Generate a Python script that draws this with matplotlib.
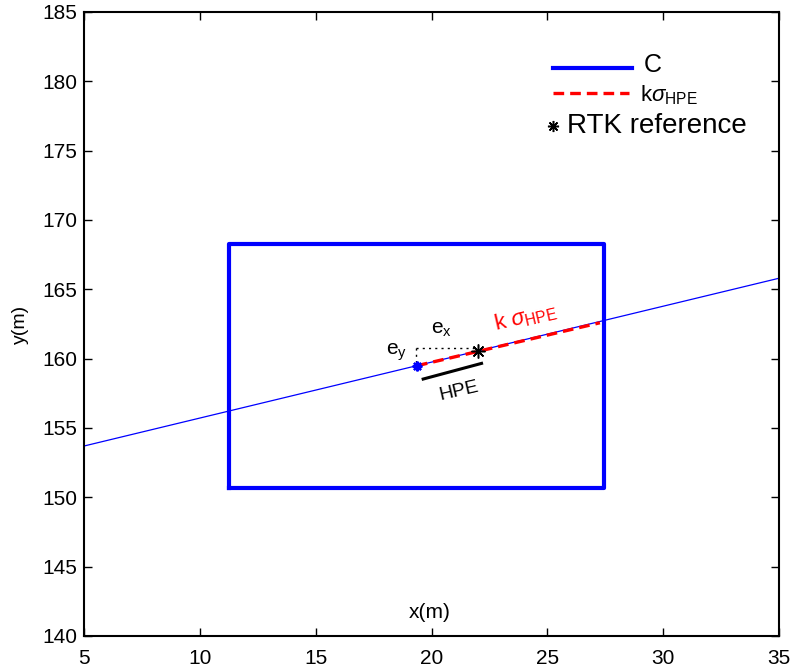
import matplotlib
matplotlib.use("Agg")
import matplotlib.pyplot as plt
from matplotlib.lines import Line2D

plt.rcParams['font.family'] = ['Liberation Sans', 'DejaVu Sans']
plt.rcParams['mathtext.fontset'] = 'custom'
plt.rcParams['mathtext.rm'] = 'Liberation Sans'
plt.rcParams['mathtext.it'] = 'Liberation Sans:italic'
plt.rcParams['mathtext.bf'] = 'Liberation Sans:bold'

# Data
rect_x = [11.26, 27.44, 27.44, 11.26, 11.26]
rect_y = [150.67, 150.67, 168.26, 168.26, 150.67]
line_x = [5, 35]
line_y = [153.7, 165.8]
ksig_x = [19.37, 27.27]
ksig_y = [159.49, 162.59]
est_pt = (19.37, 159.49)
rtk_pt = (22.0, 160.55)
ex_x = [19.33, 22.0]
ex_y = [160.79, 160.79]
ey_x = [19.33, 19.33]
ey_y = [160.79, 159.75]
hpe_x = [19.64, 22.16]
hpe_y = [158.53, 159.66]
xticks = [5, 10, 15, 20, 25, 30, 35]
yticks = [140, 145, 150, 155, 160, 165, 170, 175, 180, 185]

BLUE = '#0000ff'
STAR = (8, 2, 0)

fig = plt.figure(figsize=(7.93, 6.71), dpi=100)
ax = fig.add_axes([84/793, 1-636/671, 695/793, 624/671])

ax.plot(line_x, line_y, color=BLUE, lw=0.9, zorder=2)
ax.plot(rect_x, rect_y, color=BLUE, lw=3, zorder=3)
ax.plot(ksig_x, ksig_y, color='red', lw=2.4, ls=(0, (3.2, 1.8)), zorder=4)
ax.plot(ex_x, ex_y, color='black', lw=1, ls=(0, (1.5, 3)), zorder=3)
ax.plot(ey_x, ey_y, color='black', lw=1, ls=(0, (1.5, 3)), zorder=3)
ax.plot(hpe_x, hpe_y, color='black', lw=2.2, zorder=3)
ax.plot([est_pt[0]], [est_pt[1]], ls='none', marker=STAR, ms=7,
        mew=1.6, color=BLUE, zorder=5)
ax.plot([rtk_pt[0]], [rtk_pt[1]], ls='none', marker=STAR, ms=10,
        mew=1.1, color='black', zorder=5)

ax.text(20.45, 162.1, r'e$_{\rm x}$', fontsize=15, ha='center', va='center')
ax.text(18.5, 160.45, r'e$_{\rm y}$', fontsize=15, ha='center', va='center')
ax.text(21.18, 157.66, 'HPE', fontsize=14, ha='center', va='center', rotation=13)
ax.text(24.08, 163.0, r'k $\sigma_{\rm HPE}$', fontsize=16, color='red',
        ha='center', va='center', rotation=13)

ax.set_xlim(5, 35)
ax.set_ylim(140, 185)
ax.set_xticks(xticks)
ax.set_yticks(yticks)
ax.tick_params(direction='in', top=True, right=True, labelsize=15, length=6, width=1)
ax.tick_params(axis='x', pad=9)
ax.tick_params(axis='y', pad=5)
for s in ax.spines.values():
    s.set_linewidth(1.5)
ax.set_xlabel('x(m)', fontsize=15, va='center')
ax.xaxis.set_label_coords(0.498, 0.038)
ax.set_ylabel('y(m)', fontsize=14, va='center')
ax.yaxis.set_label_coords(-0.092, 0.5)

# Manual legend (axes-fraction positions)
def fx(px):
    return (px - 84) / 695

def fy(py):
    return (636 - py) / 624

ax.add_line(Line2D([fx(553), fx(632)], [fy(68), fy(68)], transform=ax.transAxes,
                   color=BLUE, lw=3))
ax.text(fx(644), fy(65), 'C', transform=ax.transAxes, fontsize=18,
        ha='left', va='center')
ax.add_line(Line2D([fx(553), fx(629)], [fy(93), fy(93)], transform=ax.transAxes,
                   color='red', lw=2.4, ls=(0, (3.2, 1.8))))
ax.text(fx(640), fy(95), r'k$\sigma_{\rm HPE}$', transform=ax.transAxes, fontsize=16,
        ha='left', va='center')
ax.add_line(Line2D([fx(553)], [fy(126)], transform=ax.transAxes, ls='none',
                   marker=STAR, ms=8, mew=1.1, color='black'))
ax.text(fx(567), fy(126), 'RTK reference', transform=ax.transAxes, fontsize=20,
        ha='left', va='center')

fig.savefig('out.png', dpi=100)
